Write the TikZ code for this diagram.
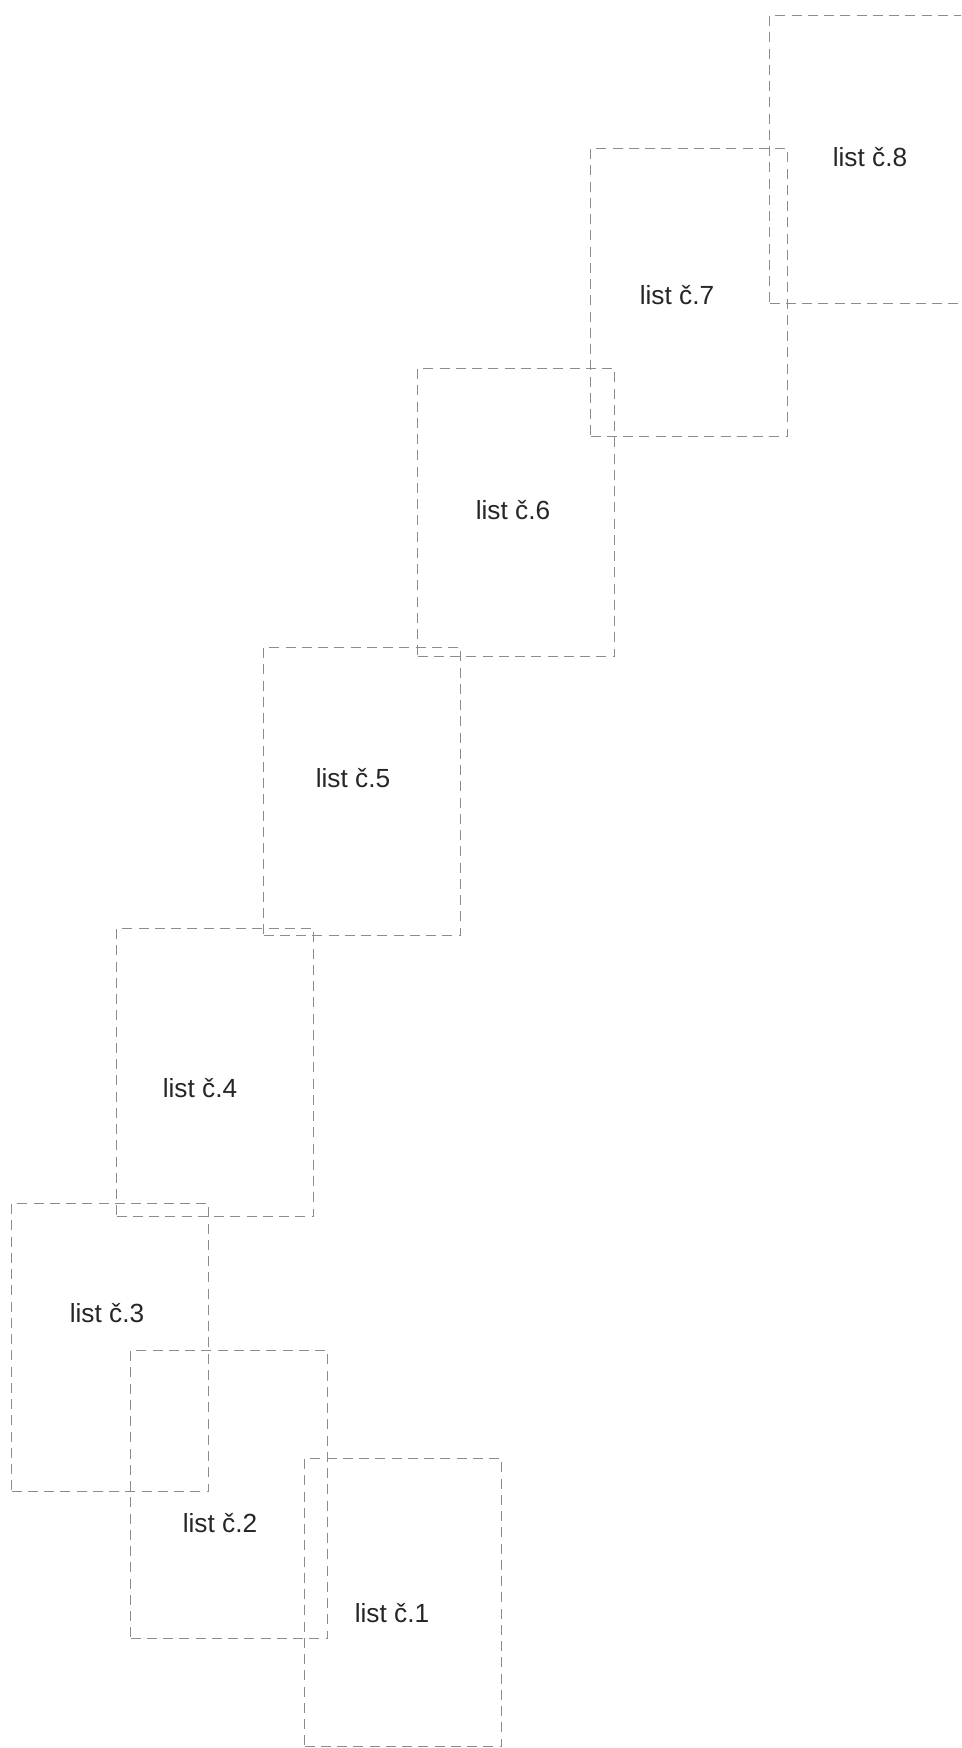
\documentclass[tikz,border=0pt]{standalone}
\usepackage{fontspec}
\setmainfont{Liberation Sans}
\usetikzlibrary{positioning}
\tikzset{
  sheet/.style={
    draw=black!45, line width=0.5pt,
    dash pattern=on 4pt off 2.5pt,
    rectangle, inner sep=0pt, anchor=north west,
    minimum width=78.8pt, minimum height=115.2pt
  },
  sheet label/.style={
    font=\fontsize{10.5}{12}\selectfont, text=black!85
  },
}

\begin{document}
\begin{tikzpicture}[x=0.4pt, y=-0.4pt]

  \useasboundingbox (0,0) rectangle (961,1748);
  \clip (0,0) rectangle (961,1748);

  % sheets, from the bottom up
  \node[sheet] (sheet1) at (304,1458) {};
  \node[sheet] (sheet2) at (130,1350) {};
  \node[sheet] (sheet3) at (11,1203)  {};
  \node[sheet] (sheet4) at (116,928)  {};
  \node[sheet] (sheet5) at (263,647)  {};
  \node[sheet] (sheet6) at (417,368)  {};
  \node[sheet] (sheet7) at (590,148)  {};
  \node[sheet] (sheet8) at (769,15)   {};

  \node[sheet label] (lbl1) at (392,1613) {list č.1};
  \node[sheet label] (lbl2) at (220,1523) {list č.2};
  \node[sheet label] (lbl3) at (107,1313) {list č.3};
  \node[sheet label] (lbl4) at (200,1088) {list č.4};
  \node[sheet label] (lbl5) at (353,778)  {list č.5};
  \node[sheet label] (lbl6) at (513,510)  {list č.6};
  \node[sheet label] (lbl7) at (677,295)  {list č.7};
  \node[sheet label] (lbl8) at (870,157)  {list č.8};

\end{tikzpicture}
\end{document}
